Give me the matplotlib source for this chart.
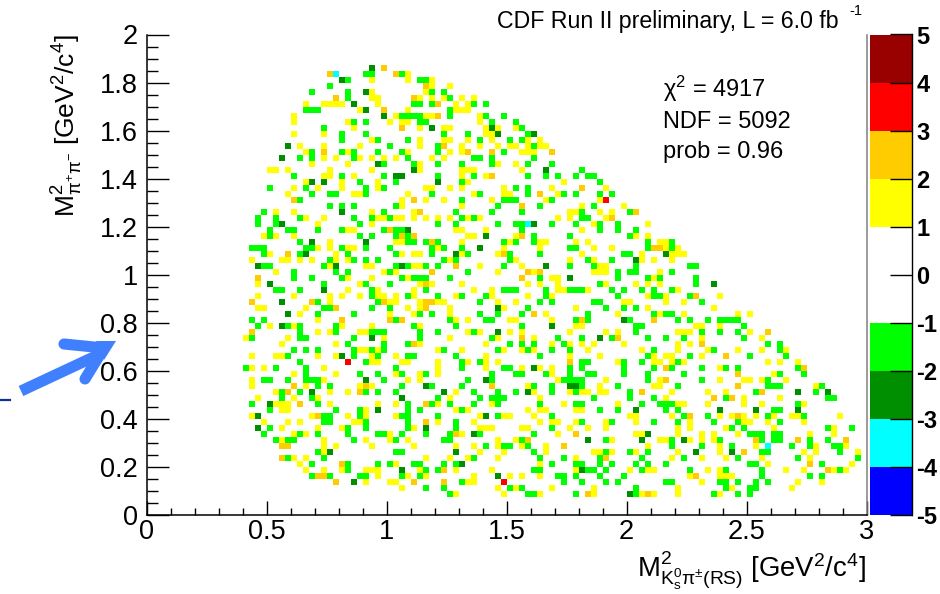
import numpy as np
import matplotlib
matplotlib.use("Agg")
import matplotlib.pyplot as plt
from matplotlib.colors import ListedColormap, BoundaryNorm
from matplotlib.lines import Line2D
from matplotlib.patches import Polygon
from matplotlib.transforms import Affine2D

plt.rcParams['font.family'] = ['Liberation Sans', 'DejaVu Sans']
plt.rcParams['mathtext.fontset'] = 'custom'
plt.rcParams['mathtext.rm'] = 'Liberation Sans'
plt.rcParams['mathtext.it'] = 'Liberation Sans'
plt.rcParams['mathtext.bf'] = 'Liberation Sans:bold'
plt.rcParams['mathtext.default'] = 'regular'

W, H = 940, 594

# Occupied bins of the 120 x 80 histogram: row -> columns, one table per pull class
YELLOW = {
73:[43],72:[37,43,47],71:[47,50],70:[37,46],69:[37,38,45,47,49,52,54],
68:[26,29,30,31,32,38,51,53],67:[35,43,51,52,53],66:[24,41,46,47,55],
65:[24,33,40,42,43,55],64:[34,45,49,50,56,58,61],63:[24,29,56,57],
62:[37,45,49,50,53,57,63,65],61:[25,29,35,45,52,55,58,60,61,63,65,66],
60:[26,33,43,50,52,62,63,64],59:[29,31,35,37,39,41,47,49],58:[27,33,45,58,61],
57:[20,21,23,30,37,45,52,53,54,62],56:[29,30,34,52,56],55:[26,32,38,53,69],
54:[24,28,32,38,46,47,50,52,59,67,76],53:[23,34,35,43,54,59,60,68],
52:[42,46,49,57,66,75],51:[42,52,72,79],50:[21,24,37,44,70,71,75,77],
49:[26,29,38,39,41,42,44,46,48,50,53,55,68,70,76],48:[28,37,74,83],
47:[33,34,51,52,56,72],46:[19,21,24,53,54,61,81,83],
45:[30,41,42,52,60,65,66,71,73,85,86],44:[28,30,33,34,48,59,65,74,77,86,88],
43:[20,31,42,44,45,52,58,72,82,87,88,89],42:[17,22,23,25,27,31,33,50,61,70,74,82,84,87],
41:[30,36,37,44,45,55,62,75,76],40:[21,39,41,58,64,74,75,76,85],39:[33,37,43,67,68,84],
38:[18,35,45,47,52,63,65,68,76,81,83,85],37:[33,38,44,54,57,68,69,73,88],
36:[18,24,30,32,35,38,39,41,44,51,57,63,67,83,86,95],
35:[30,40,41,45,48,49,58,61,79,80,86,89],34:[18,19,26,43,45,50,59,71,83,94],
33:[25,40,44,50,66,78,85,89,98,100],32:[28,51,53,60,61,67],
31:[20,24,32,37,45,71,72,91,92,95],30:[28,30,35,36,53,55,60,62,70,76,78,88,89,90,100],
29:[16,23,39,50,58,64,92,102],28:[22,31,45,56,67,70,72,74,79,88,90],
27:[35,36,38,48,52,59,62,64,73,82,88,93,98,102,106],
26:[17,21,22,28,31,37,41,56,70,75,84,86,87,92],
25:[37,38,42,43,48,53,56,58,78,84,85,87,89,103,105,108],
24:[17,19,29,48,56,62,65,67,95],23:[24,31,41,45,48,67,104],
22:[17,29,43,45,68,76,85,95,99,100,102,106],21:[17,26,35,37,63,75,84,85,111],
20:[21,30,33,51,64,70,72,73,75,76,87,93,96],19:[18,24,28,50,65,86,99,105],
18:[21,22,23,30,38,41,48,57,69,78,88,89,93,99,102,109],
17:[22,23,36,51,53,63,65,66,71,72],
16:[17,27,33,36,41,55,59,60,64,80,81,87,95,97,99,101,104,107,108,115],
15:[19,23,25,34,35,48,54,65,67,68,71,76,81,90,99,100,103,109],
14:[22,28,32,44,55,56,57,62,63,70,73,76,88,90,96,104,114],
13:[24,26,40,52,68,81,82,88,92,94,98,110,114],
12:[22,29,36,40,43,58,61,77,85,86,90,92,94],
11:[29,31,37,44,51,54,58,62,66,83,95,101,111,116],
10:[29,55,59,66,74,75,77,81,88,95,109,111,118],9:[24,26,46,50,53,58,71,87,92,96,102,110],
8:[25,41,65,103,117],7:[26,29,32,36,37,38,45,51,57,71,80,83,84,93,95,106,109,114,116],
6:[38,43,46,54,60,62,65,90,95,96,97],5:[36,40,41,53,54,92,108,112],
4:[42,58,61,67,74,88,97,107],3:[51,59,65,74,82,84,88,95],
}
ORANGE = {
74:[39],73:[30,41],71:[46],69:[31,44],68:[48],67:[39],66:[48],64:[42],61:[49],
60:[29,53,57,67],56:[57],54:[72],53:[65],52:[24,44],51:[62],50:[45,81],49:[77],
47:[40],46:[42,44,62],45:[47],44:[84,85],43:[23,59],41:[51],40:[47,63,65],39:[18,62],
38:[46],36:[91],35:[17,27,39,46,47],34:[31,46],33:[64],32:[32,40,42,72,84],
30:[17,103],29:[62,78],28:[44,92],26:[96],25:[70],24:[86,109],23:[98],22:[86],
21:[24,36,57,98],20:[23,35,82,102],19:[94,97],18:[25,46],16:[28,90,98],15:[46],
13:[51,71],12:[63,101,108,116],11:[22,23,69],10:[99],9:[22,76],8:[32,110],7:[49,113],
6:[28,29,91],5:[31,44,49],3:[73,83],
}
RED = {52:[76],25:[33],5:[59]}
GREEN = {
73:[36,37,42],72:[33,45,46],71:[30],70:[27,33,47,49],69:[33,50],68:[44,45,47,54,56],
67:[26,27,28,50],66:[42,43,44,45,50,56,59],65:[34,36,45,46,57,61],64:[29,62],
63:[32,36,49,53,63],62:[32,38,43,55,60,62],61:[40,48,64],
60:[27,32,34,38,42,48,59],59:[25,27,34,43,54,55,57,64],58:[39,44,48,52,57,63,67],
57:[72],56:[24,32,39,48,54,63,66,68,71,73,74],55:[35,41,52,75],
54:[20,26,36,39,61,63],53:[27,30,31,36,47,55,63,69,71,75,77],
52:[25,52,59,60,61,67],51:[30,32,34,41,58,65,74],50:[19,39,51,57,62,72,80],
49:[18,21,25,34,37,40,52,54,72,73],48:[18,21,35,48,51,58,61,62,67,71,75,78],
47:[20,23,24,28,32,39,41,42,62,75,78,81],46:[20,35,37,41,43,64,70,80],
45:[25,43,44,46,48,59,61,64,83,87],44:[17,18,19,26,27,32,36,40,47,49,52,70,71,83,87],
43:[19,25,33,41,47,53,60,65,79,80],42:[30,34,36,38,49,51,60,73,77],
41:[19,20,29,41,43,46,48,59,70,74,81,90,91],40:[24,31,33,40,53,78,80,81,87],
39:[24,27,32,42,44,45,46,50,65,78,83,85,91],38:[29,36,40,75,91],
37:[21,22,25,37,46,59,60,61,66,70,71,72,77,79,82,84,87],
36:[37,43,48,52,56,66,78,84,85,90],35:[28,38,55,65,67,74,75,92],
34:[29,30,37,40,63,76,79,81],33:[28,34,45,47,55,58,62,73,84,86,87],
32:[17,19,41,50,56,57,71,73,80,88,90,93,95,96,97,98],
31:[18,23,25,31,44,51,62,81,82,99],30:[25,31,37,38,39,45,48,54,81,92,95,98],
29:[17,25,26,34,45,57,68,72,77,83,86,89,99],28:[33,39,43,60,62,64,69,103,105],
27:[24,26,28,34,37,39,49,58,63,67,70,84,94,105],26:[23,34,38,43,44,51,65,83,90,100,106],
25:[25,36,52,55,72,73,79,82,88],24:[16,21,26,41,52,59,60,70,72,79,84,87,92,96,98,108],
23:[26,35,38,42,46,57,61,62,66,70,73,74,79,83,89,105,109],
22:[19,20,23,26,27,28,39,53,57,69,70,71,72,83,92,103],
21:[28,30,42,47,52,64,67,72,78,88,103,104,105,112],
20:[22,25,36,38,41,54,58,61,67,71,80,101,111],19:[22,27,48,55,57,58,59,74,80,84,96,113,114],
18:[17,28,43,47,50,54,58,65,71,72,82,85,86,87,108],17:[20,31,35,43,45,52,75,78,86,88,104,105],
16:[29,30,35,42,43,48,58,67,89,93,103,109],15:[29,30,36,43,51,72,77,84,88,94,98,105],
14:[20,33,36,43,51,67,97,99,113,117],13:[19,25,28,33,38,39,42,46,50,55,64,100,101,102,104,105],
12:[21,23,24,34,41,49,50,62,76,87,95,102,104,105,110,113],
11:[56,59,60,63,87,92,97,107,110,114,115],10:[28,41,42,64,76,80,83,102,103,115],
9:[23,29,54,65,69,75,82,89,98,108,118],8:[27,33,38,40,44,45,49,51,67,71,72,75,77,81,83,86,100,101,112],
7:[33,46,48,64,65,73,74,76,82,90,96,102,115],6:[27,30,35,36,42,45,68,69,71,75,79,102,110,112],
5:[52,69,72,76,78,86,87,95,96,98,101,103],4:[46,49,60,62,81,96,100,101],
3:[50,63,64,71,81,94,98,100],
}
DARK = {
74:[37],72:[32],70:[36],68:[34],67:[36],66:[39],64:[47,57],63:[58,64],61:[23],59:[22],
58:[38],57:[44,66],56:[41,42],55:[27,29,48],50:[32],48:[22,64],47:[43],46:[56],45:[27,36],
44:[55],43:[26,51,86],42:[81],41:[18,31,42,66],39:[70],38:[20,94],37:[29],35:[22],
34:[58],33:[23],32:[79],31:[22,67],30:[58],29:[37,75],26:[32],24:[64],22:[36,56],
21:[46,70,71],20:[27,49,63,108,113],19:[42],18:[20],17:[38,81,95,101,108],16:[18,56],
14:[18,46],13:[54,83],12:[73,82,89],10:[30,51,91,97],8:[52],7:[42,72],6:[58],5:[34],3:[80],
}
CYAN = {73:[31],48:[63],11:[103]}

CLASS_TABLES = [(YELLOW, 1.5), (ORANGE, 2.5), (RED, 3.5), (GREEN, -1.5), (DARK, -2.5), (CYAN, -3.5)]

X_EDGES = np.linspace(0, 3, 121)
Y_EDGES = np.linspace(0, 2, 81)
LEVELS = [-5, -4, -3, -2, -1, 0, 1, 2, 3, 4, 5]
LEVEL_COLOURS = ['#0000ff', '#00ffff', '#008f00', '#00ff00', '#ffffff', '#ffffff',
                 '#ffff00', '#ffcc00', '#ff0000', '#990000']
X_TICKS = [0, 0.5, 1, 1.5, 2, 2.5, 3]
X_TICK_LABELS = ['0', '0.5', '1', '1.5', '2', '2.5', '3']
Y_TICKS = [0, 0.2, 0.4, 0.6, 0.8, 1, 1.2, 1.4, 1.6, 1.8, 2]
Y_TICK_LABELS = ['0', '0.2', '0.4', '0.6', '0.8', '1', '1.2', '1.4', '1.6', '1.8', '2']

Z = np.full((80, 120), np.nan)
for table, pull in CLASS_TABLES:
    for row, cols in table.items():
        for col in cols:
            Z[row, col] = pull
Z = np.ma.masked_invalid(Z)


def box(x0, y_top, x1, y_bot):
    return [x0 / W, 1 - y_bot / H, (x1 - x0) / W, (y_bot - y_top) / H]


fig = plt.figure(figsize=(W / 100, H / 100), dpi=100)
ax = fig.add_axes(box(147, 34.5, 866.5, 515))
cmap = ListedColormap(LEVEL_COLOURS)
norm = BoundaryNorm(LEVELS, cmap.N)
mesh = ax.pcolormesh(X_EDGES, Y_EDGES, Z, cmap=cmap, norm=norm, linewidth=0, antialiased=False)
ax.set_xlim(0, 3)
ax.set_ylim(0, 2)

ax.set_xticks(X_TICKS, X_TICK_LABELS)
ax.set_yticks(Y_TICKS, Y_TICK_LABELS)
ax.set_xticks(np.arange(0, 3.01, 0.1), minor=True)
ax.set_yticks(np.arange(0, 2.01, 0.05), minor=True)
ax.tick_params(axis='x', which='major', direction='in', length=10, width=1.0, labelsize=19.5, pad=3)
ax.tick_params(axis='x', which='minor', direction='in', length=5, width=1.0)
ax.tick_params(axis='y', which='major', direction='in', length=15.5, width=1.0, labelsize=19.5, pad=6.5)
ax.tick_params(axis='y', which='minor', direction='in', length=8, width=1.0)
ax.spines['top'].set_visible(False)
ax.spines['right'].set_color('#808080')
for s in ['left', 'bottom', 'right']:
    ax.spines[s].set_linewidth(1.1)

cax = fig.add_axes(box(870, 34.5, 912, 515))
cb = fig.colorbar(mesh, cax=cax, ticks=LEVELS, spacing='proportional')
cb.outline.set_visible(False)
cb.minorticks_off()
cax.spines['right'].set_visible(True)
cax.spines['right'].set_color('black')
cax.spines['right'].set_linewidth(1.0)
cax.tick_params(axis='y', direction='in', length=15.5, width=1.0, labelsize=17, pad=3)
for lab in cax.get_yticklabels():
    lab.set_fontweight('bold')
cb.set_ticklabels([str(v) for v in LEVELS])


def txt(x, y, s, **kw):
    return fig.text(x / W, 1 - y / H, s, **kw)


txt(497, 28, 'CDF Run II preliminary, L = 6.0 fb', fontsize=16.65, ha='left', va='baseline')
txt(849, 15, '-1', fontsize=10.5, ha='left', va='baseline')
txt(663, 97, r'$\chi^{2}$ = 4917', fontsize=17, ha='left', va='baseline')
txt(663, 128, 'NDF = 5092', fontsize=17, ha='left', va='baseline')
txt(663, 158, 'prob = 0.96', fontsize=17, ha='left', va='baseline')

txt(75, 34, r'$M^{2}_{\pi^{+}\pi^{-}}$ [GeV$^{2}$/c$^{4}$]', fontsize=19, rotation=90,
    ha='right', va='baseline', rotation_mode='anchor')
txt(866, 577, r'$M^{2}_{K^{0}_{s}\pi^{\pm}(RS)}$ [GeV$^{2}$/c$^{4}$]', fontsize=19.8,
    ha='right', va='baseline')

# Blue annotation arrow and the dash next to it (pixel space of the figure)
px = Affine2D().scale(1 / W, -1 / H).translate(0, 1) + fig.transFigure
ARROW_BLUE = '#4080ff'
fig.add_artist(Line2D([21, 98], [391, 355], color=ARROW_BLUE, lw=8, solid_capstyle='butt',
                      transform=px))
fig.add_artist(Line2D([64, 104, 85], [344, 348, 379], color=ARROW_BLUE, lw=8,
                      solid_capstyle='round', solid_joinstyle='miter', transform=px))
fig.add_artist(Polygon([(116, 341), (96, 341), (104, 360)], closed=True,
                       facecolor=ARROW_BLUE, edgecolor='none', transform=px))
fig.add_artist(Line2D([0, 10], [400, 400], color='#1030a0', lw=1.6, transform=px))

fig.savefig('out.png', dpi=100)
